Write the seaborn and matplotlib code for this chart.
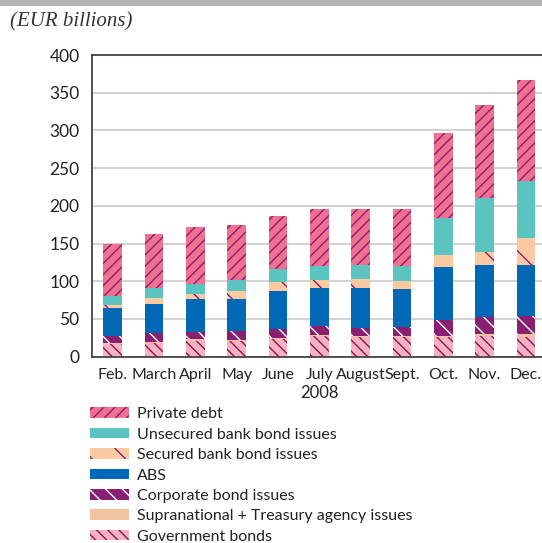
import matplotlib
matplotlib.use("Agg")
import matplotlib.pyplot as plt
from matplotlib.patches import Patch, Rectangle
import seaborn as sns
import numpy as np

# %% data (EUR billions)
months = ["Feb.", "March", "April", "May", "June", "July", "August", "Sept.", "Oct.", "Nov.", "Dec."]
government = [17, 18, 21, 21, 23, 27, 25.5, 25.5, 26, 27.5, 26]
supranational = [1, 2, 2, 1.5, 1.5, 2, 1.5, 2, 1.5, 2.5, 4]
corporate = [9.5, 11, 10, 11.5, 12, 12, 11.5, 11.5, 21, 22.5, 24]
abs_ = [37.5, 39, 43.5, 42.5, 51, 50.5, 52.5, 51, 71, 69, 67.5]
secured = [3.5, 8, 6.5, 10, 11, 10, 12, 10.5, 15, 17.5, 36.5]
unsecured = [12.5, 13, 14, 15, 18, 19, 18.5, 20, 50, 72, 75]
private = [69, 72, 75, 73, 70, 75.5, 74.5, 75.5, 112, 123, 134]

# bottom to top
series = [
    ("Government bonds", government, "#F6B2C2", "\\\\\\", "#8A1650"),
    ("Supranational + Treasury agency issues", supranational, "#F0C4A0", None, "#F0C4A0"),
    ("Corporate bond issues", corporate, "#8A1F72", "\\\\", "white"),
    ("ABS", abs_, "#0068B4", None, "#0068B4"),
    ("Secured bank bond issues", secured, "#FBCAA2", "\\", "#8A1F72"),
    ("Unsecured bank bond issues", unsecured, "#5BC4C1", None, "#5BC4C1"),
    ("Private debt", private, "#F07090", "///", "#8A1F72"),
]

# %%
sns.set_style("white")
plt.rcParams["font.family"] = ["Lato", "DejaVu Sans"]
plt.rcParams["hatch.linewidth"] = 1.0

fig = plt.figure(figsize=(5.42, 5.43), dpi=100)
ax = fig.add_axes([92 / 542, 186.3 / 543, 454.5 / 542, 301.7 / 543])

tops = np.cumsum([np.array(s[1], dtype=float) for s in series], axis=0)
# draw cumulative tops from the highest layer down so each layer covers the one above
for i in range(len(series) - 1, -1, -1):
    name, vals, fc, hatch, hc = series[i]
    sns.barplot(x=months, y=tops[i], order=months, color=fc, saturation=1,
                width=0.45, hatch=hatch, edgecolor=hc, linewidth=0, ax=ax)

ax.set_xlim(-0.5, 10.5)
ax.set_ylim(0, 400)
ax.set_yticks(range(0, 401, 50))
ax.yaxis.grid(True, color="#D3D3D3", linewidth=1.5)
ax.set_axisbelow(True)
ax.tick_params(axis="both", length=0, colors="#222222")
ax.tick_params(axis="y", pad=9, labelsize=12.5)
ax.tick_params(axis="x", pad=8, labelsize=11.5)
ax.set_xlabel("2008", fontsize=12, color="#222222", labelpad=2)
ax.set_ylabel("")
for side in ["left", "bottom", "top"]:
    ax.spines[side].set_color("#444444")
    ax.spines[side].set_linewidth(1.3)
ax.spines["right"].set_visible(False)

# grey band at the top
fig.patches.append(Rectangle((0, 1 - 6 / 543), 1, 6 / 543, transform=fig.transFigure,
                             facecolor="#B5B5B5", edgecolor="none"))
fig.text(10 / 542, 1 - 22 / 543, "(EUR billions)", family="Liberation Serif",
         style="italic", fontsize=15, color="#333333", va="center", ha="left")

handles = [Patch(facecolor=fc, edgecolor=hc, hatch=hatch, linewidth=0, label=name)
           for name, vals, fc, hatch, hc in series[::-1]]
fig.legend(handles=handles, loc="upper left", bbox_to_anchor=(84 / 542, 1 - 401 / 543),
           frameon=False, fontsize=11.5, handlelength=2.4, handleheight=0.65,
           handletextpad=0.5, labelspacing=0.4, borderaxespad=0, labelcolor="#222222")

plt.savefig("out.png", dpi=100)
